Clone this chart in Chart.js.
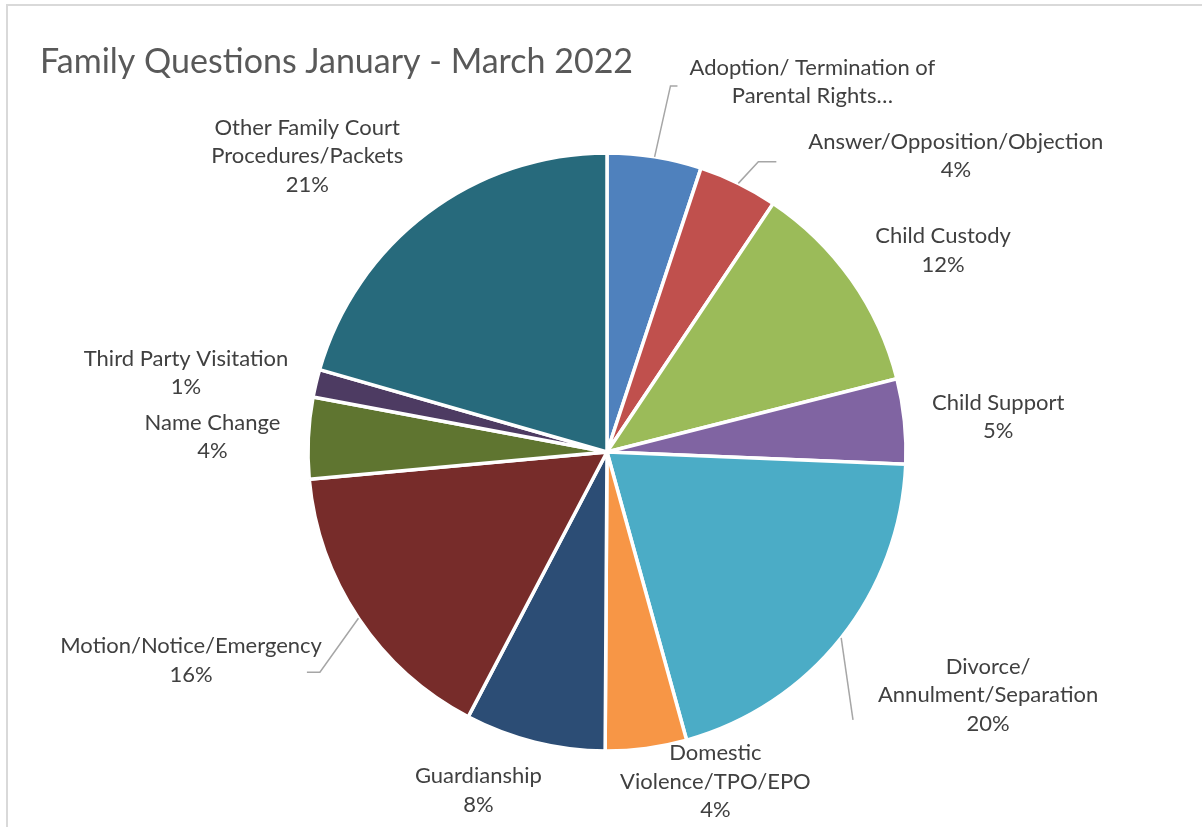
<!DOCTYPE html>
<html>
<head>
<meta charset="utf-8">
<script src="https://cdn.jsdelivr.net/npm/chart.js@4.4.0/dist/chart.umd.min.js"></script>
<style>
  html, body { margin: 0; padding: 0; background: #fff; }
  #wrap { width: 1202px; height: 827px; }
</style>
</head>
<body>
<div id="wrap"><canvas id="familyChart" width="1202" height="827"></canvas></div>
<script>
const chartTitle = 'Family Questions January - March 2022';

const categories = [
  'Adoption/ Termination of Parental Rights',
  'Answer/Opposition/Objection',
  'Child Custody',
  'Child Support',
  'Divorce/ Annulment/Separation',
  'Domestic Violence/TPO/EPO',
  'Guardianship',
  'Motion/Notice/Emergency',
  'Name Change',
  'Third Party Visitation',
  'Other Family Court Procedures/Packets'
];

// share of questions
const shares = [5.1, 4.3, 11.7, 4.6, 20.1, 4.4, 7.6, 15.9, 4.4, 1.5, 20.6];

// how each label is broken into lines in the picture
const labelLines = [
  ['Adoption/ Termination of', 'Parental Rights\u2026'],
  ['Answer/Opposition/Objection'],
  ['Child Custody'],
  ['Child Support'],
  ['Divorce/', 'Annulment/Separation'],
  ['Domestic', 'Violence/TPO/EPO'],
  ['Guardianship'],
  ['Motion/Notice/Emergency'],
  ['Name Change'],
  ['Third Party Visitation'],
  ['Other Family Court', 'Procedures/Packets']
];
const showPercent = [false, true, true, true, true, true, true, true, true, true, true];

const sliceColors = [
  '#4F81BD', '#C0504D', '#9BBB59', '#8064A2', '#4BACC6', '#F79646',
  '#2C4D75', '#772C2A', '#5F7530', '#4D3B62', '#276A7C'
];

// label placement tweaks, px, on top of the automatic outside position
const labelNudge = [
  [135, -27], [144, 16], [20, -1], [8, 1], [45, 18], [54, -29],
  [-36, 1], [-42, 15], [-8, 1], [-11, 1], [-50, -7]
];
// leader lines: gap from the label's near edge, vertical shift, horizontal stub
const leaders = [
  {gap: 12, dy: 4, stub: 7},
  {gap: 32, dy: 6, stub: 18},
  null, null,
  {gap: 25, dy: 25, stub: 0},
  null, null,
  {gap: -15, dy: 12, stub: 13},
  null, null, null
];

const LABEL_FONT = '22px Lato';
const LINE_H = 28.5;

const frameAndTitle = {
  id: 'frameAndTitle',
  beforeDraw(chart) {
    const ctx = chart.ctx;
    ctx.save();
    ctx.fillStyle = '#fff';
    ctx.fillRect(0, 0, chart.width, chart.height);
    ctx.strokeStyle = '#D9D9D9';
    ctx.lineWidth = 2;
    ctx.strokeRect(7, 5, chart.width + 20, chart.height + 20);
    ctx.fillStyle = '#595959';
    ctx.font = '34px Lato';
    ctx.textAlign = 'left';
    ctx.textBaseline = 'middle';
    ctx.fillText(chartTitle, 40, 62);
    ctx.restore();
  }
};

const outsideLabels = {
  id: 'outsideLabels',
  afterDatasetsDraw(chart) {
    const ctx = chart.ctx;
    const meta = chart.getDatasetMeta(0);
    const total = shares.reduce((a, b) => a + b, 0);
    ctx.save();
    ctx.font = LABEL_FONT;
    meta.data.forEach((arc, i) => {
      const p = arc.getProps(['x', 'y', 'startAngle', 'endAngle', 'outerRadius'], true);
      const mid = (p.startAngle + p.endAngle) / 2;
      const ux = Math.cos(mid), uy = Math.sin(mid);
      const lines = labelLines[i].slice();
      if (showPercent[i]) lines.push(Math.round(shares[i] / total * 100) + '%');
      const w = Math.max(...lines.map(l => ctx.measureText(l).width));
      const h = lines.length * LINE_H;
      const ax = p.x + ux * (p.outerRadius + 20);
      const ay = p.y + uy * (p.outerRadius + 20);
      const cx = ax + ux * w / 2 + labelNudge[i][0];
      const cy = ay + uy * h / 2 + labelNudge[i][1];

      const ld = leaders[i];
      if (ld) {
        const right = cx > p.x;
        const edge = right ? cx - w / 2 - ld.gap : cx + w / 2 + ld.gap;
        const ey = cy + ld.dy;
        const elbowX = right ? edge - ld.stub : edge + ld.stub;
        ctx.beginPath();
        ctx.moveTo(p.x + ux * p.outerRadius, p.y + uy * p.outerRadius);
        ctx.lineTo(elbowX, ey);
        ctx.lineTo(edge, ey);
        ctx.strokeStyle = '#A6A6A6';
        ctx.lineWidth = 1.5;
        ctx.stroke();
      }

      ctx.fillStyle = '#404040';
      ctx.textAlign = 'center';
      ctx.textBaseline = 'middle';
      lines.forEach((l, k) => ctx.fillText(l, cx, cy - h / 2 + LINE_H * (k + 0.5)));
    });
    ctx.restore();
  }
};

new Chart(document.getElementById('familyChart'), {
  type: 'pie',
  data: {
    labels: categories,
    datasets: [{
      data: shares,
      backgroundColor: sliceColors,
      borderColor: '#FFFFFF',
      borderWidth: 3.5
    }]
  },
  options: {
    responsive: false,
    devicePixelRatio: 1,
    animation: false,
    radius: 299,
    layout: {
      padding: {left: 308, right: 296, top: 153, bottom: 76}
    },
    plugins: {
      legend: {display: false},
      title: {display: false},
      tooltip: {enabled: false}
    }
  },
  plugins: [frameAndTitle, outsideLabels]
});
</script>
</body>
</html>
